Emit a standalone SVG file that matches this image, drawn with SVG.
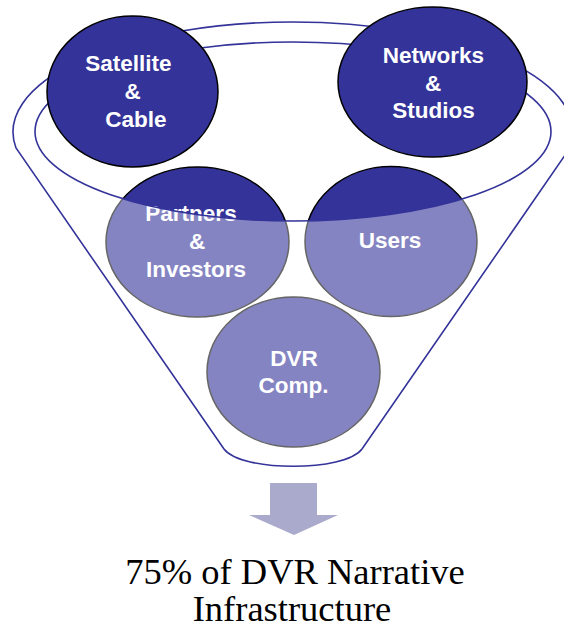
<svg xmlns="http://www.w3.org/2000/svg" width="564" height="630" viewBox="0 0 564 630">
  <style>
    .node { fill: #333399; stroke: #000; stroke-width: 1.5; }
    .lbl { font-family: "Liberation Sans", Arial, sans-serif; font-weight: bold; font-size: 22.5px; fill: #fff; text-anchor: middle; }
    .funnel-line { fill: none; stroke: #333399; stroke-width: 1.6; }
    .caption { font-family: "Liberation Serif", "Times New Roman", serif; font-size: 36.5px; fill: #000; text-anchor: middle; }
  </style>

  <!-- lower circles, sitting inside the funnel body -->
  <g id="partners">
    <ellipse class="node" cx="197.5" cy="242" rx="91.5" ry="75"/>
    <text class="lbl" x="191" y="221">Partners</text>
    <text class="lbl" x="197" y="249">&amp;</text>
    <text class="lbl" x="196" y="277">Investors</text>
  </g>
  <g id="users">
    <ellipse class="node" cx="391" cy="241.5" rx="86" ry="75"/>
    <text class="lbl" x="390" y="248">Users</text>
  </g>
  <g id="dvr-comp">
    <ellipse class="node" cx="293.5" cy="372" rx="86.5" ry="75"/>
    <text class="lbl" x="294" y="366">DVR</text>
    <text class="lbl" x="293.5" y="393">Comp.</text>
  </g>

  <!-- funnel: translucent body below the mouth, then outline -->
  <g id="funnel">
    <path fill="#fff" fill-opacity="0.4" fill-rule="evenodd"
          d="M16,148 A280,110 0 1 1 570,148 L362,449 C345,472 241,472 224,449 Z
             M35,131.5 A258,89.5 0 1 0 551,131.5 A258,89.5 0 1 0 35,131.5 Z"/>
    <path class="funnel-line" d="M16,148 A280,110 0 1 1 570,148 L362,449 C345,472 241,472 224,449 Z"/>
    <ellipse class="funnel-line" cx="293" cy="131.5" rx="258" ry="89.5"/>
  </g>

  <!-- upper circles, resting on the funnel rim -->
  <g id="satellite-cable">
    <ellipse class="node" cx="132.5" cy="91.5" rx="85.5" ry="75.5"/>
    <text class="lbl" x="128.5" y="71">Satellite</text>
    <text class="lbl" x="132.5" y="99">&amp;</text>
    <text class="lbl" x="136" y="127">Cable</text>
  </g>
  <g id="networks-studios">
    <ellipse class="node" cx="432.5" cy="82" rx="94.5" ry="75"/>
    <text class="lbl" x="433.5" y="63">Networks</text>
    <text class="lbl" x="433" y="91">&amp;</text>
    <text class="lbl" x="433.5" y="118">Studios</text>
  </g>

  <g id="connectors">
    <polygon fill="#aaaacc" points="270,483 317,483 317,515 338,515 294,535 249,515 270,515"/>
  </g>

  <g id="result">
    <text class="caption"><tspan x="295" y="584">75% of DVR Narrative</tspan><tspan x="292" y="621">Infrastructure</tspan></text>
  </g>
</svg>
